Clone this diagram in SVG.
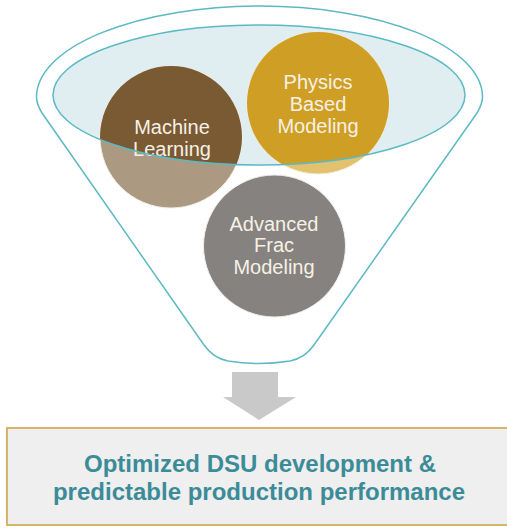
<svg xmlns="http://www.w3.org/2000/svg" width="507" height="529" viewBox="0 0 507 529">
<style>
.teal{fill:none;stroke:#5cb9c4;stroke-width:1.5}
.lbl{font-family:"Liberation Sans",Arial,sans-serif;font-size:20px;fill:#f6f1e6;text-anchor:middle}
.out{font-family:"Liberation Sans",Arial,sans-serif;font-size:24px;font-weight:bold;fill:#3b8c98;text-anchor:middle}
</style>
<defs>
<clipPath id="mouth"><ellipse cx="259" cy="95" rx="206" ry="70"/></clipPath>
</defs>
<rect width="507" height="529" fill="#ffffff"/>
<g id="funnel">
<path class="teal" d="M36.5,97 A223,91 0 0 1 482.5,97 C482.5,103 480,108 477,113 L314,345 Q305,358 290,361 Q259,366 228,361 Q213,358 204,345 L42,113 C39,108 36.5,103 36.5,97 Z"/>
<ellipse cx="259" cy="95" rx="206" ry="70" fill="#e0eef1"/>
</g>
<g id="machine-learning">
<circle cx="171" cy="137" r="71" fill="#ab9a81" stroke="#f4efe6" stroke-width="1"/>
<circle cx="171" cy="137" r="71" fill="#7a5a33" clip-path="url(#mouth)"/>
<text class="lbl" x="172" y="134">Machine</text>
<text class="lbl" x="172" y="156">Learning</text>
</g>
<g id="physics-based-modeling">
<circle cx="318" cy="103" r="71" fill="#e3c26f" stroke="#f7efd9" stroke-width="1"/>
<circle cx="318" cy="103" r="71" fill="#cf9e24" clip-path="url(#mouth)"/>
<text class="lbl" x="318" y="89">Physics</text>
<text class="lbl" x="318" y="111">Based</text>
<text class="lbl" x="318" y="133">Modeling</text>
</g>
<ellipse class="teal" cx="259" cy="95" rx="206" ry="70"/>
<g id="advanced-frac-modeling">
<circle cx="274.5" cy="246" r="71" fill="#86827f" stroke="#f2f0ee" stroke-width="1"/>
<text class="lbl" x="274" y="231">Advanced</text>
<text class="lbl" x="274" y="252">Frac</text>
<text class="lbl" x="274" y="274">Modeling</text>
</g>
<g id="connectors">
<path d="M232,372 H278 V397 H296 L259,420 L223,397 H232 Z" fill="#c9c9c9"/>
</g>
<g id="outcome">
<rect x="7" y="428" width="503" height="97" fill="#efefef" stroke="#d6b56b" stroke-width="2"/>
<text class="out" x="260" y="472">Optimized DSU development &amp;</text>
<text class="out" x="259" y="500">predictable production performance</text>
</g>
</svg>
